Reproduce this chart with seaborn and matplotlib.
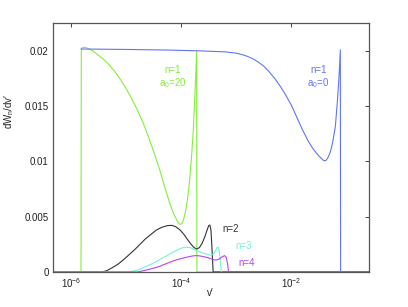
import matplotlib

matplotlib.use("Agg")

import matplotlib.pyplot as plt
import numpy as np
import pandas as pd
import seaborn as sns
from matplotlib.ticker import FixedLocator, FixedFormatter, NullLocator

# curves: log10(v') and dW_n/dv'
blue_logv = [-5.82, -5.0, -4.2, -3.6, -3.2, -3.0, -2.9, -2.8, -2.7, -2.6, -2.5, -2.4,
             -2.3, -2.2, -2.1, -2.0, -1.9, -1.8, -1.7, -1.6, -1.5, -1.45, -1.41, -1.37,
             -1.33, -1.29, -1.25, -1.2, -1.16, -1.13, -1.11, -1.105, -0.8]
blue_val = [0.02018, 0.02014, 0.02008, 0.02, 0.01992, 0.0198, 0.01968, 0.01952, 0.0193,
            0.0190, 0.01862, 0.0181, 0.0175, 0.0168, 0.0160, 0.0151, 0.0140, 0.0129,
            0.0119, 0.0111, 0.0105, 0.01025, 0.01007, 0.0101, 0.0104, 0.0109, 0.0117,
            0.0132, 0.0157, 0.0180, 0.0201, 0.0, 0.0]

green_logv = [-5.82, -5.815, -5.79, -5.74, -5.68, -5.6, -5.5, -5.4, -5.3, -5.2, -5.1,
              -5.0, -4.9, -4.8, -4.7, -4.6, -4.5, -4.4, -4.3, -4.2, -4.14, -4.08, -4.04,
              -4.02, -3.99, -3.96, -3.93, -3.9, -3.87, -3.84, -3.81, -3.78, -3.76, -3.74,
              -3.72, -3.715, -0.3]
green_val = [0.0, 0.0202, 0.02032, 0.02033, 0.0202, 0.0200, 0.0196, 0.0192, 0.0187,
             0.0181, 0.0174, 0.0166, 0.0157, 0.0147, 0.0136, 0.0123, 0.0109, 0.0094,
             0.0077, 0.0061, 0.0053, 0.0047, 0.00438, 0.00432, 0.00436, 0.0047, 0.0053,
             0.0061, 0.0072, 0.0087, 0.0106, 0.0129, 0.0150, 0.0173, 0.0200, 0.0, 0.0]

black_logv = [-6.6, -5.44, -5.35, -5.25, -5.15, -5.05, -4.95, -4.85, -4.75, -4.65, -4.55,
              -4.45, -4.35, -4.25, -4.17, -4.1, -4.02, -3.95, -3.88, -3.82, -3.77, -3.72,
              -3.67, -3.62, -3.57, -3.53, -3.5, -3.48, -3.46, -3.445, -3.43, -3.42, -0.3]
black_val = [0.0, 0.0, 0.00012, 0.0004, 0.0007, 0.0011, 0.00155, 0.0020, 0.0025, 0.0030,
             0.0034, 0.0038, 0.00405, 0.0042, 0.00422, 0.0041, 0.0038, 0.0034, 0.0029,
             0.0025, 0.00222, 0.00208, 0.0022, 0.0026, 0.0032, 0.0038, 0.0042, 0.00425,
             0.0038, 0.0025, 0.001, 0.0, 0.0]

cyan_logv = [-6.6, -4.96, -4.85, -4.75, -4.65, -4.55, -4.45, -4.35, -4.25, -4.15, -4.05,
             -3.97, -3.9, -3.83, -3.75, -3.67, -3.6, -3.53, -3.47, -3.42, -3.38, -3.35,
             -3.33, -3.31, -3.29, -3.27]
cyan_val = [0.0, 0.0, 0.0001, 0.00025, 0.00048, 0.0007, 0.00095, 0.00124, 0.0015, 0.0018,
            0.00205, 0.0022, 0.00224, 0.0022, 0.0020, 0.00185, 0.0017, 0.0016, 0.00152,
            0.0016, 0.0019, 0.0022, 0.00225, 0.0019, 0.001, 0.0]

purple_logv = [-6.6, -4.8, -4.7, -4.6, -4.5, -4.4, -4.3, -4.2, -4.1, -4.0, -3.9, -3.82,
               -3.75, -3.68, -3.6, -3.52, -3.45, -3.4, -3.35, -3.3, -3.25, -3.21, -3.18,
               -3.16, -3.14]
purple_val = [0.0, 0.0, 0.0001, 0.00022, 0.00035, 0.0005, 0.0007, 0.0009, 0.00108,
              0.00122, 0.00134, 0.00143, 0.00148, 0.00147, 0.0014, 0.0013, 0.00118,
              0.00109, 0.0011, 0.0012, 0.0014, 0.00148, 0.0013, 0.0008, 0.0]

curves = [
    ("n=1 a0=20", green_logv, green_val, "#84ee3c"),
    ("n=2", black_logv, black_val, "#333333"),
    ("n=3", cyan_logv, cyan_val, "#74f2d6"),
    ("n=4", purple_logv, purple_val, "#b644f2"),
    ("n=1 a0=0", blue_logv, blue_val, "#6274fb"),
]

x_ticks = [1e-6, 1e-4, 1e-2]
x_tick_labels = ["10$^{-6}$", "10$^{-4}$", "10$^{-2}$"]
y_ticks = [0, 0.005, 0.01, 0.015, 0.02]
y_tick_labels = ["0", "0.005", "0.01", "0.015", "0.02"]

sns.set_theme(style="white")
plt.rcParams["font.family"] = ["Liberation Sans", "DejaVu Sans"]
plt.rcParams["mathtext.default"] = "regular"

fig = plt.figure(figsize=(4.08, 3.07), dpi=100)
ax = fig.add_axes([0.13, 0.114, 0.775, 0.811])

for name, logv, val, color in curves:
    df = pd.DataFrame({"v": np.power(10.0, logv), "w": val})
    sns.lineplot(data=df, x="v", y="w", ax=ax, color=color, linewidth=0.8,
                 estimator=None, sort=False)

ax.set_xscale("log")
ax.set_xlim(4.7e-7, 0.26)
ax.set_ylim(0, 0.02253)

ax.xaxis.set_major_locator(FixedLocator(x_ticks))
ax.xaxis.set_major_formatter(FixedFormatter(x_tick_labels))
ax.xaxis.set_minor_locator(NullLocator())
ax.yaxis.set_major_locator(FixedLocator(y_ticks))
ax.yaxis.set_major_formatter(FixedFormatter(y_tick_labels))

ax.tick_params(axis="both", which="both", direction="in", length=3, width=0.6,
               top=True, right=True, labelsize=7, pad=3, colors="#222222")
for side in ax.spines.values():
    side.set_color("#555555")
    side.set_linewidth(0.9)

ax.set_xlabel("v′", fontsize=7, color="#222222")
ax.xaxis.set_label_coords(0.497, -0.065)
ax.set_ylabel("dW$_n$/dv′", fontsize=7, color="#222222")
ax.yaxis.set_label_coords(-0.118, 0.647)

ax.text(7.1e-5, 0.0176, "n=1\na$_0$=20", color="#84ee3c", fontsize=7,
        ha="center", va="center", linespacing=1.1)
ax.text(3.1e-2, 0.0176, "n=1\na$_0$=0", color="#6274fb", fontsize=7,
        ha="center", va="center", linespacing=1.1)
ax.text(5.6e-4, 0.00389, "n=2", color="#333333", fontsize=7, ha="left", va="center")
ax.text(9.5e-4, 0.00235, "n=3", color="#74f2d6", fontsize=7, ha="left", va="center")
ax.text(1.1e-3, 0.00081, "n=4", color="#b644f2", fontsize=7, ha="left", va="center")

fig.savefig("out.png", dpi=100, facecolor="white")
